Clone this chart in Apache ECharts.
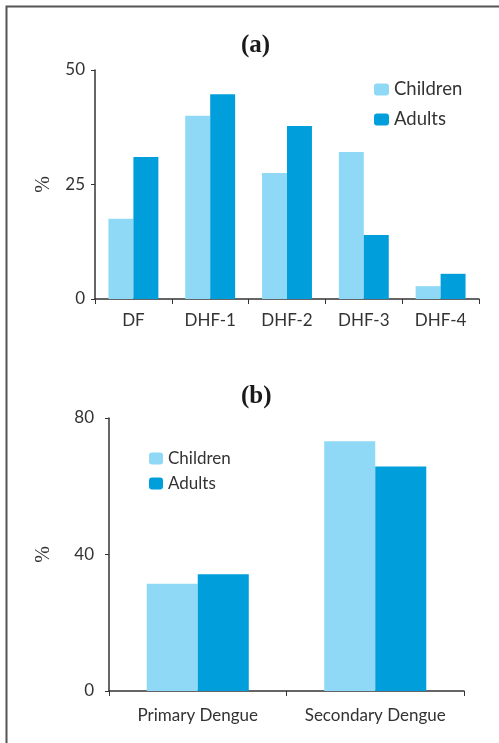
<!DOCTYPE html>
<html>
<head>
<meta charset="utf-8">
<script src="https://cdn.jsdelivr.net/npm/echarts@6/dist/echarts.min.js"></script>
<style>
	html, body { margin: 0; padding: 0; background: #fff; }
	#main { width: 499px; height: 743px; }
</style>
</head>
<body>
<div id="main"></div>
<script>
// panel (a): clinical classification
var gradeCats = ['DF', 'DHF-1', 'DHF-2', 'DHF-3', 'DHF-4'];
var gradeChildren = [17.5, 40.0, 27.5, 32.1, 2.8];
var gradeAdults = [31.0, 44.7, 37.8, 14.0, 5.5];
var gradeTicks = [0, 25, 50];

// panel (b): type of infection
var infCats = ['Primary Dengue', 'Secondary Dengue'];
var infChildren = [31.4, 73.2];
var infAdults = [34.2, 65.8];
var infTicks = [0, 40, 80];

var seriesNames = ['Children', 'Adults'];
var lightBlue = '#8fd8f6';
var darkBlue = '#009fdb';
var sans = 'Lato';
var serif = 'Liberation Serif';
var ink = '#333';

var chart = echarts.init(document.getElementById('main'));

function axisX(cats, gi, margin)
{
	return {
		type: 'category',
		gridIndex: gi,
		data: cats,
		axisLine: { lineStyle: { color: ink, width: 1.5 } },
		axisTick: { show: true, length: 5, lineStyle: { color: ink, width: 1 } },
		axisLabel: { color: ink, fontFamily: sans, fontSize: 17, margin: margin, interval: 0 }
	};
}

function axisY(ticks, gi, margin, nameGap)
{
	return {
		type: 'value',
		gridIndex: gi,
		min: ticks[0],
		max: ticks[ticks.length - 1],
		interval: ticks[1] - ticks[0],
		name: '%',
		nameLocation: 'middle',
		nameGap: nameGap,
		nameRotate: 90,
		nameTextStyle: { color: ink, fontFamily: serif, fontSize: 20 },
		axisLine: { show: true, lineStyle: { color: ink, width: 1.5 } },
		axisTick: { show: true, length: 4, lineStyle: { color: ink, width: 1 } },
		axisLabel: { color: ink, fontFamily: sans, fontSize: 17, margin: margin },
		splitLine: { show: false }
	};
}

function bar(name, data, color, gi, gap)
{
	return {
		type: 'bar',
		name: name,
		xAxisIndex: gi,
		yAxisIndex: gi,
		data: data,
		barGap: 0,
		barCategoryGap: gap,
		itemStyle: { color: color },
		emphasis: { disabled: true }
	};
}

var options =
{
	animation: false,
	backgroundColor: '#fff',
	title:
	[
		{ text: '(a)', left: 241, top: 33, padding: 0, textStyle: { fontFamily: serif, fontSize: 25, fontWeight: 'bold', color: '#1a1a1a' } },
		{ text: '(b)', left: 241, top: 384, padding: 0, textStyle: { fontFamily: serif, fontSize: 25, fontWeight: 'bold', color: '#1a1a1a' } }
	],
	legend:
	[
		{
			orient: 'vertical', left: 374, top: 80, padding: 0,
			itemWidth: 15, itemHeight: 12, itemGap: 11,
			data: seriesNames,
			textStyle: { color: ink, fontFamily: sans, fontSize: 18.5, lineHeight: 18 }
		},
		{
			orient: 'vertical', left: 149, top: 450, padding: 0,
			itemWidth: 14, itemHeight: 12, itemGap: 8,
			data: seriesNames,
			textStyle: { color: ink, fontFamily: sans, fontSize: 17, lineHeight: 16 }
		}
	],
	grid:
	[
		{ left: 95, right: 20, top: 70, bottom: 444 },
		{ left: 109, right: 35, top: 418, bottom: 52 }
	],
	xAxis: [ axisX(gradeCats, 0, 13), axisX(infCats, 1, 16) ],
	yAxis: [ axisY(gradeTicks, 0, 10, 41), axisY(infTicks, 1, 15, 55) ],
	series:
	[
		bar(seriesNames[0], gradeChildren, lightBlue, 0, '35%'),
		bar(seriesNames[1], gradeAdults, darkBlue, 0, '35%'),
		bar(seriesNames[0], infChildren, lightBlue, 1, '42.5%'),
		bar(seriesNames[1], infAdults, darkBlue, 1, '42.5%')
	],
	graphic:
	[
		{
			type: 'polyline',
			shape: { points: [[6.5, 760], [6.5, 6.5], [520, 6.5]] },
			style: { stroke: '#555', lineWidth: 2, fill: null },
			silent: true
		}
	]
};

chart.setOption(options);
</script>
</body>
</html>
